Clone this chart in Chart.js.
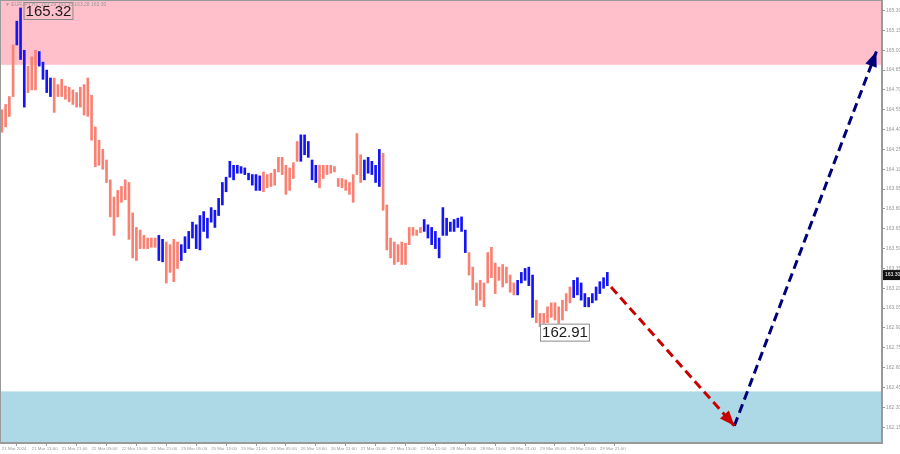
<!DOCTYPE html>
<html>
<head>
<meta charset="utf-8">
<title>EURJPY H1</title>
<script src="https://cdn.jsdelivr.net/npm/chart.js@4.4.1/dist/chart.umd.min.js"></script>
<style>
    html, body { margin: 0; padding: 0; background: #fff; }
    #wrap { width: 900px; height: 454px; position: relative; }
</style>
</head>
<body>
<div id="wrap"><canvas id="chart"></canvas></div>
<script>
// data ------------------------------------------------------------------

const highs = [
    164.55, 164.59, 164.65, 165.04, 165.22, 165.32, 165.00, 164.88, 164.95, 165.00,
    164.99, 164.91, 164.85, 164.79, 164.79, 164.74, 164.78, 164.73, 164.72, 164.70,
    164.68, 164.72, 164.74, 164.79, 164.66, 164.42, 164.32, 164.25, 164.17, 164.02,
    163.89, 163.94, 163.97, 164.02, 164.00, 163.77, 163.66, 163.64, 163.60, 163.58,
    163.58, 163.58, 163.60, 163.57, 163.55, 163.53, 163.57, 163.55, 163.53, 163.59,
    163.63, 163.70, 163.68, 163.75, 163.78, 163.73, 163.81, 163.79, 163.88, 164.00,
    164.04, 164.16, 164.13, 164.13, 164.12, 164.11, 164.07, 164.06, 164.06, 164.05,
    164.08, 164.06, 164.07, 164.10, 164.19, 164.19, 164.13, 164.11, 164.15, 164.31,
    164.36, 164.36, 164.31, 164.17, 164.13, 164.13, 164.13, 164.13, 164.13, 164.12,
    164.03, 164.03, 164.02, 164.00, 164.06, 164.37, 164.21, 164.17, 164.19, 164.16,
    164.13, 164.25, 164.22, 163.83, 163.58, 163.55, 163.53, 163.55, 163.54, 163.66,
    163.66, 163.64, 163.66, 163.72, 163.68, 163.66, 163.63, 163.58, 163.81, 163.73,
    163.70, 163.72, 163.73, 163.74, 163.64, 163.47, 163.36, 163.24, 163.26, 163.24,
    163.47, 163.51, 163.39, 163.36, 163.38, 163.36, 163.30, 163.24, 163.26, 163.32,
    163.35, 163.36, 163.30, 163.11, 163.01, 163.01, 163.06, 163.09, 163.09, 163.06,
    163.11, 163.16, 163.21, 163.26, 163.28, 163.24, 163.16, 163.13, 163.16, 163.21,
    163.25, 163.28, 163.32
];

const lows = [
    164.38, 164.42, 164.50, 164.65, 165.04, 164.93, 164.57, 164.68, 164.70, 164.70,
    164.88, 164.78, 164.68, 164.65, 164.53, 164.65, 164.65, 164.63, 164.61, 164.59,
    164.57, 164.57, 164.51, 164.50, 164.32, 164.12, 164.13, 164.10, 164.00, 163.74,
    163.60, 163.74, 163.85, 163.87, 163.57, 163.43, 163.41, 163.50, 163.50, 163.50,
    163.51, 163.51, 163.41, 163.40, 163.24, 163.32, 163.25, 163.35, 163.41, 163.47,
    163.50, 163.58, 163.50, 163.49, 163.63, 163.58, 163.70, 163.66, 163.75, 163.83,
    163.93, 164.04, 164.02, 164.07, 164.07, 164.06, 164.02, 163.98, 163.94, 163.94,
    163.93, 163.96, 163.97, 163.98, 164.08, 164.06, 163.91, 163.94, 164.03, 164.16,
    164.16, 164.21, 164.19, 164.02, 164.00, 163.96, 164.03, 164.06, 164.07, 164.08,
    163.97, 163.96, 163.94, 163.91, 163.85, 164.06, 164.00, 164.02, 164.07, 164.06,
    164.00, 163.97, 163.79, 163.49, 163.43, 163.38, 163.40, 163.38, 163.38, 163.53,
    163.60, 163.60, 163.62, 163.63, 163.58, 163.53, 163.50, 163.43, 163.60, 163.60,
    163.63, 163.63, 163.66, 163.63, 163.47, 163.30, 163.19, 163.07, 163.11, 163.06,
    163.24, 163.28, 163.16, 163.26, 163.21, 163.24, 163.17, 163.15, 163.15, 163.24,
    163.26, 163.22, 162.98, 162.94, 162.91, 162.93, 162.94, 162.98, 162.96, 162.92,
    162.96, 163.03, 163.09, 163.13, 163.15, 163.11, 163.06, 163.06, 163.09, 163.11,
    163.16, 163.20, 163.22
];

// bars (by index) that belong to the blue wave segments
const blueWaves = [[4, 6], [10, 13], [42, 43], [48, 69], [80, 84], [97, 101], [113, 124], [138, 142], [153, 162]];

const xTickLabels = [
    '21 Mar 2024', '21 Mar 13:00', '21 Mar 21:00', '22 Mar 05:00', '22 Mar 13:00', '22 Mar 21:00',
    '25 Mar 05:00', '25 Mar 13:00', '25 Mar 21:00', '26 Mar 05:00', '26 Mar 13:00', '26 Mar 21:00',
    '27 Mar 05:00', '27 Mar 13:00', '27 Mar 21:00', '28 Mar 05:00', '28 Mar 13:00', '28 Mar 21:00',
    '29 Mar 05:00', '29 Mar 13:00', '29 Mar 21:00'
];
const barsPerTick = 8;
const totalSlots = 236;   // bars + empty space on the right for the forecast

const yTicks = [
    162.15, 162.30, 162.45, 162.60, 162.75, 162.90, 163.05, 163.20, 163.35, 163.50, 163.65,
    163.80, 163.95, 164.10, 164.25, 164.40, 164.55, 164.70, 164.85, 165.00, 165.15, 165.30
];
const yMin = 162.03;
const yMax = 165.38;

const sellZone = [164.89, 165.38];
const buyZone = [162.03, 162.42];

const redArrow = [{ x: 163, y: 163.21 }, { x: 196, y: 162.16 }];
const blueArrow = [{ x: 196, y: 162.16 }, { x: 234, y: 164.99 }];

const markHigh = { index: 5, value: 165.32 };
const markLow = { index: 144, value: 162.91 };
const lastPrice = 163.30;
const headerText = '\u25BC EURJPY,H1  163.29 163.35 163.28 163.30';


// helpers ----------------------------------------------------------------

const SALMON = 'rgb(250,128,114)';
const BLUE = 'rgb(20,20,245)';
const SMALL_FONT = '"Liberation Sans Narrow", "Liberation Sans", sans-serif';

function barColors() {
    let colors = highs.map(() => SALMON);
    blueWaves.forEach(([a, b]) => {
        for (let i = a; i <= b; i++) colors[i] = BLUE;
    });
    return colors;
}

// no extra room for half tick labels at the top / bottom
function noPadding(scale) {
    scale.paddingTop = 0;
    scale.paddingBottom = 0;
}


// plugins ------------------------------------------------------------------

const zonesPlugin = {
    id: 'zones',
    beforeDatasetsDraw(chart) {
        const { ctx, chartArea, scales } = chart;
        const y = scales.y;
        const fill = (zone, color) => {
            let top = y.getPixelForValue(zone[1]);
            let bottom = y.getPixelForValue(zone[0]);
            ctx.fillStyle = color;
            ctx.fillRect(chartArea.left, top, chartArea.right - chartArea.left, bottom - top);
        };
        ctx.save();
        fill(sellZone, 'rgb(255,192,203)');
        fill(buyZone, 'rgb(173,216,230)');
        ctx.restore();
    }
};

const overlayPlugin = {
    id: 'overlay',
    afterDatasetsDraw(chart) {
        const { ctx, chartArea, scales } = chart;
        const x = scales.x, y = scales.y;
        ctx.save();

        // arrow heads
        const head = (pts, color) => {
            let x1 = x.getPixelForValue(pts[0].x), y1 = y.getPixelForValue(pts[0].y);
            let x2 = x.getPixelForValue(pts[1].x), y2 = y.getPixelForValue(pts[1].y);
            let a = Math.atan2(y2 - y1, x2 - x1);
            let len = 15, half = 6;
            ctx.fillStyle = color;
            ctx.beginPath();
            ctx.moveTo(x2, y2);
            ctx.lineTo(x2 - len * Math.cos(a) + half * Math.sin(a), y2 - len * Math.sin(a) - half * Math.cos(a));
            ctx.lineTo(x2 - len * Math.cos(a) - half * Math.sin(a), y2 - len * Math.sin(a) + half * Math.cos(a));
            ctx.closePath();
            ctx.fill();
        };
        head(redArrow, '#c80000');
        head(blueArrow, '#00007a');

        // price labels at the extremes
        ctx.font = '15px "Liberation Sans", Arial, sans-serif';
        ctx.textBaseline = 'middle';
        ctx.textAlign = 'left';
        const box = (text, left, top, fill) => {
            let w = ctx.measureText(text).width + 3;
            let h = 17;
            if (fill) {
                ctx.fillStyle = fill;
                ctx.fillRect(left, top, w, h);
            }
            ctx.strokeStyle = '#8a8a8a';
            ctx.lineWidth = 1;
            ctx.strokeRect(left + 0.5, top + 0.5, w, h);
            ctx.fillStyle = '#1a1a1a';
            ctx.fillText(text, left + 2, top + h / 2 + 1);
        };
        let hx = x.getPixelForValue(markHigh.index);
        let hy = y.getPixelForValue(markHigh.value);
        box(markHigh.value.toFixed(2), hx + 3, Math.max(chartArea.top + 2, hy - 6), null);
        let lx = x.getPixelForValue(markLow.index);
        let ly = y.getPixelForValue(markLow.value);
        box(markLow.value.toFixed(2), lx, ly - 3, '#ffffff');

        // header text
        ctx.font = '5px ' + SMALL_FONT;
        ctx.fillStyle = '#999';
        ctx.fillText(headerText, chartArea.left + 5, chartArea.top + 5);

        // last price marker on the axis
        let py = y.getPixelForValue(lastPrice);
        ctx.fillStyle = '#111';
        ctx.fillRect(chartArea.right + 1, py - 5, 17, 10);
        ctx.fillStyle = '#fff';
        ctx.font = '5px ' + SMALL_FONT;
        ctx.fillText(lastPrice.toFixed(2), chartArea.right + 3, py);

        // frame
        ctx.strokeStyle = '#9a9a9a';
        ctx.lineWidth = 1;
        ctx.strokeRect(chartArea.left + 0.5, chartArea.top + 0.5, chartArea.right - chartArea.left - 1, chartArea.bottom - chartArea.top - 1);
        ctx.restore();
    }
};


// chart ----------------------------------------------------------------

const slots = Array.from({ length: totalSlots }, (_, i) => i);

new Chart(document.getElementById('chart'), {
    data: {
        labels: slots,
        datasets: [
            {
                type: 'bar',
                data: highs.map((h, i) => [lows[i], h]),
                backgroundColor: barColors(),
                barThickness: 2,
                borderSkipped: false,
                order: 2
            },
            {
                type: 'line',
                data: redArrow,
                borderColor: '#c80000',
                borderWidth: 3,
                borderDash: [9, 5],
                pointRadius: 0,
                order: 1
            },
            {
                type: 'line',
                data: blueArrow,
                borderColor: '#00007a',
                borderWidth: 3,
                borderDash: [9, 5],
                pointRadius: 0,
                order: 1
            }
        ]
    },
    options: {
        responsive: true,
        maintainAspectRatio: false,
        animation: false,
        layout: { padding: 0 },
        plugins: {
            legend: { display: false },
            tooltip: { enabled: false }
        },
        scales: {
            x: {
                type: 'category',
                offset: true,
                grid: { drawOnChartArea: false, tickLength: 3, color: '#999' },
                border: { color: '#999' },
                ticks: {
                    autoSkip: false,
                    maxRotation: 0,
                    align: 'start',
                    padding: 0,
                    color: '#999',
                    font: { size: 4.4, family: SMALL_FONT },
                    callback: (v, i) => {
                        if (i % barsPerTick !== 0) return null;
                        let k = i / barsPerTick;
                        return k < xTickLabels.length ? xTickLabels[k] : null;
                    }
                },
                afterFit: (scale) => { scale.height = 11; }
            },
            y: {
                position: 'right',
                min: yMin,
                max: yMax,
                grid: { drawOnChartArea: false, tickLength: 3, color: '#999' },
                border: { color: '#999' },
                afterBuildTicks: (scale) => { scale.ticks = yTicks.map(v => ({ value: v })); },
                ticks: {
                    padding: 1,
                    color: '#999',
                    font: { size: 5, family: SMALL_FONT },
                    callback: (v) => v.toFixed(2)
                },
                afterFit: (scale) => { scale.width = 18; noPadding(scale); }
            }
        }
    },
    plugins: [zonesPlugin, overlayPlugin]
});
</script>
</body>
</html>
